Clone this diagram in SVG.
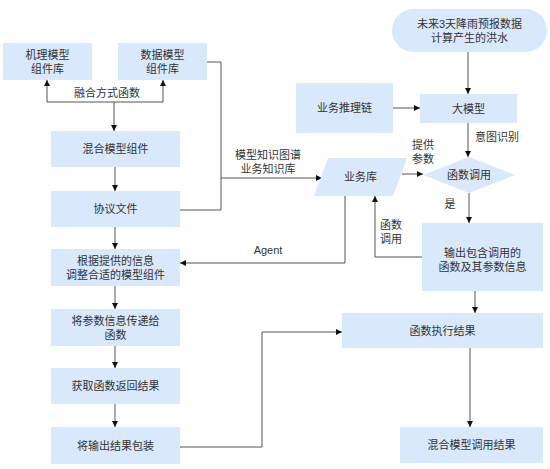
<svg xmlns="http://www.w3.org/2000/svg" width="550" height="469" viewBox="0 0 550 469">
<style>
.n{fill:#dae8fc;stroke:none}
.t{font-family:"Liberation Sans","Noto Sans CJK SC",sans-serif;font-size:11px;fill:#333;text-anchor:middle;dominant-baseline:central}
.c{fill:none;stroke:#555;stroke-width:1}
</style>
<defs>
<marker id="a" viewBox="0 0 10 10" refX="10" refY="5" markerWidth="6" markerHeight="6" orient="auto" markerUnits="userSpaceOnUse">
<path d="M0,0 L10,5 L0,10 z" fill="#111"/>
</marker>
</defs>
<rect width="550" height="469" fill="#fff"/>
<g id="connectors">
<path class="c" d="M47,102 V80" marker-end="url(#a)"/>
<path class="c" d="M163,102 V80" marker-end="url(#a)"/>
<path class="c" d="M47,102 H163"/>
<path class="c" d="M114,102 V131" marker-end="url(#a)"/>
<path class="c" d="M115,167 V191" marker-end="url(#a)"/>
<path class="c" d="M115,227 V249" marker-end="url(#a)"/>
<path class="c" d="M115,286 V309" marker-end="url(#a)"/>
<path class="c" d="M115,346 V368" marker-end="url(#a)"/>
<path class="c" d="M115,404 V427" marker-end="url(#a)"/>
<path class="c" d="M207,62 H221 V210 H180"/>
<path class="c" d="M221,178 H322" marker-end="url(#a)"/>
<path class="c" d="M468,52 V94" marker-end="url(#a)"/>
<path class="c" d="M393,108 H420" marker-end="url(#a)"/>
<path class="c" d="M468,123 V157" marker-end="url(#a)"/>
<path class="c" d="M402,174 H423" marker-end="url(#a)"/>
<path class="c" d="M469,193 V223" marker-end="url(#a)"/>
<path class="c" d="M345,196 V263 H180" marker-end="url(#a)"/>
<path class="c" d="M422,257 H375 V196" marker-end="url(#a)"/>
<path class="c" d="M475,291 V313" marker-end="url(#a)"/>
<path class="c" d="M180,447 H262 V332 H342" marker-end="url(#a)"/>
<path class="c" d="M470,348 V427" marker-end="url(#a)"/>
<text class="t" x="107" y="93">融合方式函数</text>
<text class="t" x="268" y="155">模型知识图谱</text>
<text class="t" x="268" y="169">业务知识库</text>
<text class="t" x="423" y="145">提供</text>
<text class="t" x="423" y="159">参数</text>
<text class="t" x="497" y="137">意图识别</text>
<text class="t" x="450" y="204">是</text>
<text class="t" x="391" y="225">函数</text>
<text class="t" x="391" y="239">调用</text>
<text class="t" x="268" y="250">Agent</text>
</g>
<g id="n1"><rect class="n" x="3" y="43" width="89" height="37"/><text class="t" x="47.5" y="55">机理模型</text><text class="t" x="47.5" y="69">组件库</text></g>
<g id="n2"><rect class="n" x="118" y="43" width="89" height="37"/><text class="t" x="162.5" y="55">数据模型</text><text class="t" x="162.5" y="69">组件库</text></g>
<g id="n3"><rect class="n" x="51" y="131" width="129" height="36"/><text class="t" x="115.5" y="149">混合模型组件</text></g>
<g id="n4"><rect class="n" x="51" y="191" width="129" height="36"/><text class="t" x="115.5" y="209">协议文件</text></g>
<g id="n5"><rect class="n" x="51" y="249" width="129" height="37"/><text class="t" x="115.5" y="261">根据提供的信息</text><text class="t" x="115.5" y="275">调整合适的模型组件</text></g>
<g id="n6"><rect class="n" x="51" y="309" width="129" height="37"/><text class="t" x="115.5" y="321">将参数信息传递给</text><text class="t" x="115.5" y="335">函数</text></g>
<g id="n7"><rect class="n" x="51" y="368" width="129" height="36"/><text class="t" x="115.5" y="386">获取函数返回结果</text></g>
<g id="n8"><rect class="n" x="51" y="427" width="129" height="37"/><text class="t" x="115.5" y="445.5">将输出结果包装</text></g>
<g id="n9"><rect class="n" x="392" y="9" width="155" height="43" rx="21.5"/><text class="t" x="469.5" y="24">未来3天降雨预报数据</text><text class="t" x="469.5" y="38">计算产生的洪水</text></g>
<g id="n10"><rect class="n" x="296" y="83" width="97" height="50"/><text class="t" x="344.5" y="108">业务推理链</text></g>
<g id="n11"><rect class="n" x="420" y="94" width="97" height="29"/><text class="t" x="468.5" y="108.5">大模型</text></g>
<g id="n12"><path class="n" d="M469,157 L515,175 L469,193 L423,175 z"/><text class="t" x="469" y="175">函数调用</text></g>
<g id="n13"><path class="n" d="M328,158 H407 L393,196 H314 z"/><text class="t" x="360.5" y="177">业务库</text></g>
<g id="n14"><rect class="n" x="422" y="223" width="121" height="68"/><text class="t" x="482.5" y="253">输出包含调用的</text><text class="t" x="482.5" y="267">函数及其参数信息</text></g>
<g id="n15"><rect class="n" x="342" y="313" width="201" height="35"/><text class="t" x="442.5" y="330.5">函数执行结果</text></g>
<g id="n16"><rect class="n" x="400" y="427" width="143" height="36"/><text class="t" x="471.5" y="445">混合模型调用结果</text></g>
</svg>
